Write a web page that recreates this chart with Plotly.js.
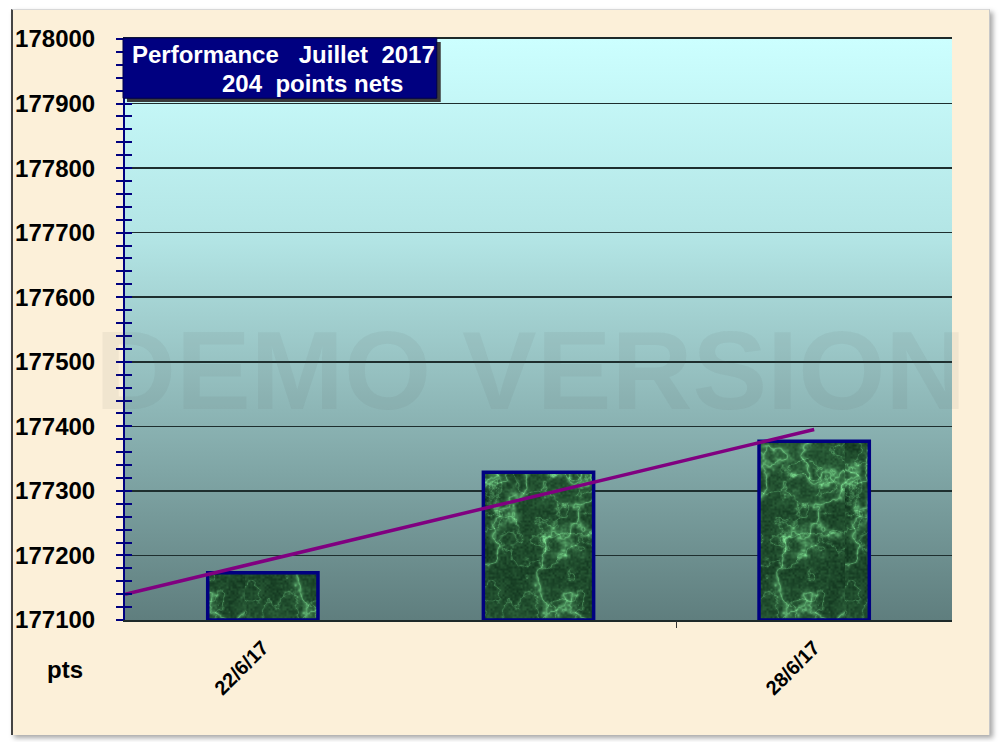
<!DOCTYPE html>
<html>
<head>
<meta charset="utf-8">
<script src="https://cdn.plot.ly/plotly-3.0.1.min.js"></script>
<style>
  html, body { margin: 0; padding: 0; background: #ffffff; }
  #frame { position: absolute; left: 11px; top: 9px; width: 976px; height: 725px;
           background: #fcf0d9; border-left: 2px solid #444; border-top: 1px solid #d8d8d8;
           border-right: 1px solid #c8c8c8; box-shadow: 3px 3px 5px rgba(0,0,0,0.35); }
  #chart { position: absolute; left: 0; top: 0; width: 1000px; height: 742px; }
</style>
</head>
<body>
<div id="frame"></div>
<div id="chart"></div>
<script>
// ---- data ----
const categories = ['22/6/17', '26/6/17', '28/6/17'];
const values = [177173, 177329, 177377];
const shownTickLabels = ['22/6/17', '28/6/17'];
const yRange = [177100, 178000];
const titleLine1 = 'Performance\u00a0\u00a0 Juillet\u00a0 2017';
const titleLine2 = '204\u00a0 points nets';
const yUnit = 'pts';
const watermark = 'DEMO VERSION';

// bars start at the axis floor
const barBase = yRange[0];
const barLengths = values.map(v => v - barBase);

// linear trendline (least squares on category index), drawn from left edge to last category
const n = values.length;
const idx = values.map((_, i) => i);
const mx = idx.reduce((a, b) => a + b, 0) / n;
const my = values.reduce((a, b) => a + b, 0) / n;
let sxy = 0, sxx = 0;
idx.forEach(i => { sxy += (i - mx) * (values[i] - my); sxx += (i - mx) * (i - mx); });
const slope = sxy / sxx, icpt = my - slope * mx;
const trendX = [-0.5, n - 1];
const trendY = trendX.map(x => icpt + slope * x);

const FONT = 'Arial, "Liberation Sans", sans-serif';
const NAVY = '#000080';

const traces = [
  { type: 'bar', x: categories, y: barLengths, base: barBase, width: 0.4,
    marker: { color: '#1f5a3a', line: { color: NAVY, width: 3.5 } },
    hoverinfo: 'x', xaxis: 'x', yaxis: 'y' },
  { type: 'scatter', mode: 'lines', x: trendX, y: trendY,
    line: { color: '#800080', width: 3.5 }, xaxis: 'x2', yaxis: 'y2', hoverinfo: 'skip' }
];

const layout = {
  width: 1000, height: 742,
  margin: { l: 125, r: 48, t: 39, b: 122 },
  paper_bgcolor: 'rgba(0,0,0,0)',
  plot_bgcolor: '#aadada',
  showlegend: false,
  xaxis: {
    type: 'category', range: [-0.5, 2.5],
    tickvals: shownTickLabels, ticktext: shownTickLabels,
    tickangle: -45, ticks: '', ticklabelstandoff: 6,
    tickfont: { family: FONT, size: 20, weight: 700, color: '#000' },
    showline: true, mirror: true, linecolor: '#1e2a2a', linewidth: 2,
    showgrid: false, zeroline: false
  },
  xaxis2: {
    overlaying: 'x', anchor: 'y2', range: [-0.5, 2.5],
    tickvals: [1.5], ticks: 'outside', ticklen: 7, tickwidth: 1.5, tickcolor: '#333',
    showticklabels: false, showgrid: false, showline: false, zeroline: false
  },
  yaxis: {
    range: yRange, dtick: 100, tick0: 177100, tickformat: 'd',
    ticks: 'outside', ticklen: 7, tickwidth: 2, tickcolor: NAVY,
    minor: { dtick: 20, ticks: 'outside', ticklen: 7, tickwidth: 2, tickcolor: NAVY, showgrid: false },
    ticklabelstandoff: 16,
    tickfont: { family: FONT, size: 24, weight: 700, color: '#000' },
    showline: true, linecolor: NAVY, linewidth: 2,
    showgrid: true, gridcolor: '#1e2e2e', gridwidth: 1.5, zeroline: false
  },
  yaxis2: {
    overlaying: 'y', anchor: 'x2', side: 'left', range: yRange, dtick: 100, tick0: 177100,
    ticks: 'inside', ticklen: 7, tickwidth: 2, tickcolor: NAVY,
    minor: { dtick: 20, ticks: 'inside', ticklen: 7, tickwidth: 2, tickcolor: NAVY, showgrid: false },
    showticklabels: false, showgrid: false, showline: false, zeroline: false
  },
  shapes: [
    { type: 'rect', xref: 'paper', yref: 'paper', x0: 0.0024, x1: 0.3818, y0: 0.8916, y1: 0.9948,
      fillcolor: '#3a3a3a', line: { width: 0 }, layer: 'above' },
    { type: 'rect', xref: 'paper', yref: 'paper', x0: -0.0024, x1: 0.377, y0: 0.898, y1: 1.0017,
      fillcolor: NAVY, line: { color: '#00004a', width: 1 }, layer: 'above' }
  ],
  annotations: [
    { text: watermark, xref: 'paper', yref: 'paper', x: 0.4909, y: 0.43, showarrow: false,
      xanchor: 'center', yanchor: 'middle',
      font: { family: FONT, size: 112, weight: 700, color: 'rgba(80,80,80,0.07)' } },
    { text: titleLine1, xref: 'paper', yref: 'paper', x: 0.006, y: 0.9725, showarrow: false,
      xanchor: 'left', yanchor: 'middle', font: { family: FONT, size: 24, weight: 700, color: '#fff' } },
    { text: titleLine2, xref: 'paper', yref: 'paper', x: 0.115, y: 0.924, showarrow: false,
      xanchor: 'left', yanchor: 'middle', font: { family: FONT, size: 24, weight: 700, color: '#fff' } },
    { text: yUnit, xref: 'paper', yref: 'paper', x: -0.0968, y: -0.086, showarrow: false,
      xanchor: 'left', yanchor: 'middle', font: { family: FONT, size: 24, weight: 700, color: '#000' } }
  ]
};

// deterministic marble texture
function hash(x, y) { const h = Math.sin(x * 127.1 + y * 311.7) * 43758.5453; return h - Math.floor(h); }
function vnoise(x, y) {
  const xi = Math.floor(x), yi = Math.floor(y), xf = x - xi, yf = y - yi;
  const u = xf * xf * (3 - 2 * xf), v = yf * yf * (3 - 2 * yf);
  const a = hash(xi, yi), b = hash(xi + 1, yi), c = hash(xi, yi + 1), d = hash(xi + 1, yi + 1);
  return a + (b - a) * u + (c - a) * v + (a - b - c + d) * u * v;
}
function fbm(x, y) { let s = 0, amp = 0.5, f = 1; for (let i = 0; i < 5; i++) { s += amp * vnoise(x * f, y * f); f *= 2; amp *= 0.5; } return s; }
const TW = 120, TH = 200;
function marbleURL() {
  const cv = document.createElement('canvas'); cv.width = TW; cv.height = TH;
  const ctx = cv.getContext('2d'), im = ctx.createImageData(TW, TH);
  for (let y = 0; y < TH; y++) for (let x = 0; x < TW; x++) {
    const base = fbm(x / 30, y / 30);
    const r1 = 1 - Math.abs(2 * fbm(x / 40 + 7.3, y / 40 + 2.1) - 1);
    const r2 = 1 - Math.abs(2 * fbm(x / 18 + 3.7, y / 18 + 9.4) - 1);
    const vein = Math.pow(r1, 18) * 0.9 + Math.pow(r2, 22) * 0.5;
    const fine = vnoise(x / 2, y / 2);
    const k = (y * TW + x) * 4;
    im.data[k]     = Math.min(255, 10 + base * 26 + vein * 70 + fine * 16);
    im.data[k + 1] = Math.min(255, 40 + base * 44 + vein * 110 + fine * 26);
    im.data[k + 2] = Math.min(255, 22 + base * 28 + vein * 75 + fine * 16);
    im.data[k + 3] = 255;
  }
  ctx.putImageData(im, 0, 0);
  return cv.toDataURL();
}

Plotly.newPlot('chart', traces, layout, { displayModeBar: false, staticPlot: true }).then(gd => {
  const SVGNS = 'http://www.w3.org/2000/svg';
  const svg = gd.querySelector('svg.main-svg');
  let defs = svg.querySelector('defs');
  if (!defs) { defs = document.createElementNS(SVGNS, 'defs'); svg.insertBefore(defs, svg.firstChild); }
  // plot background gradient
  const lg = document.createElementNS(SVGNS, 'linearGradient');
  lg.setAttribute('id', 'plotgrad'); lg.setAttribute('x1', '0'); lg.setAttribute('y1', '0');
  lg.setAttribute('x2', '0'); lg.setAttribute('y2', '1');
  [['0', '#ccffff'], ['0.35', '#b2e4e4'], ['0.6', '#92bcbc'], ['1', '#5f7e7e']].forEach(([o, c]) => {
    const s = document.createElementNS(SVGNS, 'stop'); s.setAttribute('offset', o); s.setAttribute('stop-color', c); lg.appendChild(s);
  });
  defs.appendChild(lg);
  const bg = gd.querySelector('.bglayer .bg');
  if (bg) bg.style.fill = 'url(#plotgrad)';
  // marble bar fill (tiled in user space so it is not squashed)
  const pat = document.createElementNS(SVGNS, 'pattern');
  pat.setAttribute('id', 'marble'); pat.setAttribute('patternUnits', 'userSpaceOnUse');
  pat.setAttribute('width', String(TW)); pat.setAttribute('height', String(TH));
  const img = document.createElementNS(SVGNS, 'image');
  const url = marbleURL();
  img.setAttribute('href', url);
  img.setAttributeNS('http://www.w3.org/1999/xlink', 'xlink:href', url);
  img.setAttribute('x', '0'); img.setAttribute('y', '0');
  img.setAttribute('width', String(TW)); img.setAttribute('height', String(TH));
  img.setAttribute('preserveAspectRatio', 'none');
  pat.appendChild(img); defs.appendChild(pat);
  gd.querySelectorAll('.barlayer .point path').forEach(p => { p.style.fill = 'url(#marble)'; });
});
</script>
</body>
</html>
